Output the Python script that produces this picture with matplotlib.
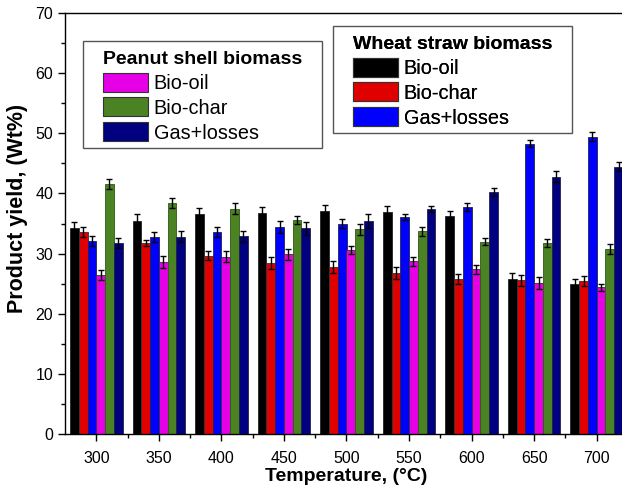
import numpy as np
import matplotlib
matplotlib.use('Agg')
from matplotlib import pyplot as plt
from matplotlib.ticker import MultipleLocator
from matplotlib.patches import Patch, Rectangle

plt.rcParams['font.family'] = ['Liberation Sans', 'DejaVu Sans']

temps = [300, 350, 400, 450, 500, 550, 600, 650, 700]

# wheat straw biomass
wheat_oil = [34.2, 35.4, 36.6, 36.8, 37.05, 36.95, 36.2, 25.8, 25.0]
wheat_oil_err = [1.0, 1.2, 1.0, 1.0, 1.0, 0.95, 0.85, 1.0, 0.7]
wheat_char = [33.6, 31.7, 29.6, 28.4, 27.75, 26.8, 25.8, 25.55, 25.4]
wheat_char_err = [0.9, 0.5, 0.75, 1.0, 1.0, 1.0, 0.8, 0.95, 0.8]
wheat_gas = [32.05, 32.8, 33.6, 34.45, 35.0, 36.1, 37.8, 48.3, 49.45]
wheat_gas_err = [0.8, 0.8, 0.8, 0.95, 0.7, 0.5, 0.65, 0.55, 0.8]

# peanut shell biomass
peanut_oil = [26.45, 28.6, 29.5, 29.9, 30.6, 28.7, 27.4, 25.1, 24.4]
peanut_oil_err = [0.9, 1.0, 0.9, 0.9, 0.6, 0.7, 0.75, 1.0, 0.55]
peanut_char = [41.6, 38.4, 37.45, 35.55, 34.05, 33.7, 32.0, 31.8, 30.8]
peanut_char_err = [0.8, 0.8, 0.95, 0.7, 0.9, 0.8, 0.6, 0.7, 0.8]
peanut_gas = [31.8, 32.8, 32.9, 34.2, 35.4, 37.45, 40.3, 42.8, 44.45]
peanut_gas_err = [0.8, 0.9, 0.9, 1.1, 1.2, 0.5, 0.65, 0.85, 0.75]

labels = ['Bio-oil', 'Bio-char', 'Gas+losses']
wheat_colors = ['#000000', '#E00000', '#0000FF']
peanut_colors = ['#E600E6', '#4A8224', '#000080']
edge_colors = ['#222222', '#333333', '#222244', '#333333', '#2E5A14', '#222244']

series = [wheat_oil, wheat_char, wheat_gas, peanut_oil, peanut_char, peanut_gas]
errs = [wheat_oil_err, wheat_char_err, wheat_gas_err,
        peanut_oil_err, peanut_char_err, peanut_gas_err]
colors = wheat_colors + peanut_colors

W, H = 622, 488
fig = plt.figure(figsize=(W / 100, H / 100), dpi=100)
ax = fig.add_axes([65 / W, 54 / H, 563 / W, 421 / H])

x = np.array(temps, dtype=float)
w = 7.0
for i, (vals, err) in enumerate(zip(series, errs)):
    pos = x + (i - 2.5) * w
    ax.bar(pos, vals, width=w, color=colors[i], edgecolor=edge_colors[i],
           linewidth=0.6, zorder=2)
    ax.errorbar(pos, vals, yerr=err, fmt='none', ecolor='black',
                elinewidth=1.0, capsize=2.5, capthick=1.0, zorder=3)

ax.set_xlim(275, 725)
ax.set_ylim(0, 70)
ax.set_xticks(temps)
ax.set_xticks([t + 25 for t in [275] + temps], minor=True)
ax.yaxis.set_major_locator(MultipleLocator(10))
ax.yaxis.set_minor_locator(MultipleLocator(5))
ax.tick_params(axis='both', which='major', direction='out', length=5,
               width=1, labelsize=11.5)
ax.tick_params(axis='both', which='minor', direction='out', length=3, width=1)
ax.tick_params(axis='x', which='major', pad=7)
for s in ax.spines.values():
    s.set_linewidth(1.0)

ax.set_xlabel('Temperature, (°C)', fontsize=14, fontweight='bold', labelpad=2)
ax.set_ylabel('Product yield, (Wt%)', fontsize=15.5, fontweight='bold')
ax.yaxis.set_label_coords(-0.066, 0.535)


def make_legend(colors_, title, left, top):
    handles = [Patch(facecolor=c, edgecolor='#333333', linewidth=0.8) for c in colors_]
    leg = ax.legend(handles, labels, title=title, loc='upper left',
                    bbox_to_anchor=(left / W, 1 - top / H),
                    bbox_transform=fig.transFigure,
                    fontsize=14.3, title_fontproperties={'weight': 'bold', 'size': 14},
                    frameon=False, handlelength=2.25, handleheight=1.1,
                    handletextpad=0.3, labelspacing=0.23, borderpad=0,
                    borderaxespad=0)
    leg._legend_box.align = 'left'
    leg._legend_box._children[0].sep = 7.5
    ax.add_artist(leg)
    return leg


leg1 = make_legend(peanut_colors, 'Peanut shell biomass', 103, 51)
leg2 = make_legend(wheat_colors, 'Wheat straw biomass', 353, 36)

# frames drawn by hand: wider padding at the sides than at top and bottom
fig.canvas.draw()
inv = fig.transFigure.inverted()
for leg in (leg1, leg2):
    bb = leg.get_window_extent()
    x0, y0 = inv.transform((bb.x0 - 20, bb.y0 - 5))
    x1, y1 = inv.transform((bb.x1 + 20, bb.y1 + 10))
    fig.patches.append(Rectangle((x0, y0), x1 - x0, y1 - y0, transform=fig.transFigure,
                                 facecolor='none', edgecolor='#555555', linewidth=1.0,
                                 zorder=5))

fig.savefig('out.png', dpi=100)
